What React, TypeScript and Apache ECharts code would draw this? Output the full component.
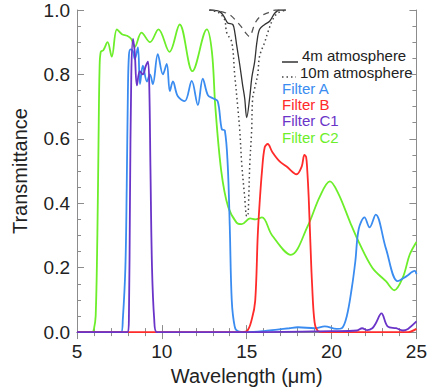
import React, { useEffect, useRef } from "react";
import * as echarts from "echarts";

const filterA: [number, number][] = [
  [5, 0], [7.6, 0], [7.7, 0.04], [7.85, 0.2], [7.93, 0.45], [8.0, 0.75], [8.06, 0.86], [8.15, 0.878],
  [8.29, 0.872], [8.41, 0.848], [8.59, 0.884], [8.71, 0.77], [8.88, 0.827], [9.12, 0.778], [9.3, 0.8],
  [9.47, 0.77], [9.76, 0.863], [10.06, 0.8], [10.29, 0.833], [10.47, 0.748], [10.65, 0.778], [10.94, 0.732],
  [11.35, 0.717], [11.76, 0.78], [12.12, 0.705], [12.41, 0.787], [12.71, 0.736], [13.0, 0.726],
  [13.29, 0.717], [13.53, 0.63], [13.71, 0.626], [13.88, 0.52], [14.0, 0.33], [14.12, 0.097],
  [14.29, 0.018], [14.47, 0.003], [15, 0], [16, 0.003], [16.8, 0.008], [17.5, 0.012], [18, 0.015],
  [19, 0.012], [19.6, 0.018], [20.3, 0.01], [20.6, 0.012], [20.9, 0.05], [21.2, 0.14], [21.4, 0.22],
  [21.6, 0.32], [21.94, 0.356], [22.24, 0.325], [22.6, 0.365], [23.2, 0.26], [23.9, 0.158],
  [24.4, 0.173], [24.9, 0.19], [25, 0.18],
];

const filterB: [number, number][] = [
  [5, 0], [14.6, 0], [15.0, 0.003], [15.3, 0.04], [15.5, 0.097], [15.65, 0.3], [15.76, 0.4],
  [15.9, 0.5], [16.06, 0.574], [16.24, 0.584], [16.5, 0.56], [16.94, 0.53], [17.35, 0.514],
  [17.94, 0.49], [18.24, 0.514], [18.4, 0.55], [18.5, 0.544], [18.57, 0.5], [18.65, 0.42],
  [18.75, 0.28], [18.85, 0.15], [19.0, 0.03], [19.2, 0.003], [19.5, 0], [24.5, 0], [25, 0.01],
];

const filterC1: [number, number][] = [
  [5, 0], [8.0, 0], [8.06, 0.05], [8.12, 0.4], [8.2, 0.8], [8.3, 0.91], [8.4, 0.87], [8.53, 0.766],
  [8.7, 0.81], [8.88, 0.8], [9.05, 0.826], [9.18, 0.84], [9.26, 0.76], [9.33, 0.5], [9.42, 0.2],
  [9.55, 0.04], [9.7, 0], [15, 0], [20, 0.003], [21.5, 0.005], [21.8, 0.012], [22.1, 0.006],
  [22.4, 0.012], [22.6, 0.027], [22.94, 0.058], [23.3, 0.018], [23.8, 0.012], [24.2, 0.005],
  [24.5, 0.01], [25, 0.033],
];

const filterC2: [number, number][] = [
  [5, 0], [5.9, 0], [6.0, 0.01], [6.1, 0.05], [6.2, 0.3], [6.27, 0.6], [6.33, 0.82], [6.4, 0.87],
  [6.55, 0.875], [6.8, 0.9], [7.05, 0.855], [7.35, 0.94], [7.65, 0.925], [7.95, 0.92], [8.2, 0.91],
  [8.4, 0.885], [8.8, 0.93], [9.3, 0.9], [9.8, 0.94], [10.45, 0.87], [11.05, 0.955], [11.8, 0.81],
  [12.65, 0.94], [12.95, 0.87], [13.15, 0.7], [13.5, 0.5], [13.9, 0.39], [14.4, 0.34], [14.7, 0.335],
  [15.2, 0.353], [15.5, 0.35], [15.9, 0.356], [16.5, 0.3], [17.6, 0.24], [18.6, 0.33], [19.3, 0.42],
  [19.9, 0.468], [20.4, 0.43], [21.1, 0.34], [21.6, 0.28], [22.4, 0.2], [23.2, 0.158], [23.7, 0.13],
  [24.2, 0.17], [24.6, 0.24], [25, 0.28],
];

const atm4m: [number, number][] = [
  [12.8, 1.0], [13.2, 0.998], [13.41, 0.995], [13.6, 0.985], [13.71, 0.975], [13.88, 0.96],
  [14.18, 0.955], [14.3, 0.93], [14.41, 0.89], [14.59, 0.83], [14.75, 0.77], [14.88, 0.726],
  [15.0, 0.666], [15.18, 0.73], [15.3, 0.79], [15.47, 0.84], [15.6, 0.9], [15.76, 0.94],
  [16.06, 0.955], [16.35, 0.965], [16.65, 0.99], [16.94, 1.0], [17.3, 1.0],
];

const atm10m: [number, number][] = [
  [12.8, 1.0], [13.2, 0.995], [13.4, 0.99], [13.7, 0.97], [13.82, 0.93], [14.12, 0.9], [14.29, 0.8],
  [14.47, 0.7], [14.59, 0.626], [14.71, 0.52], [14.88, 0.42], [15.0, 0.36], [15.06, 0.36],
  [15.12, 0.42], [15.18, 0.52], [15.29, 0.626], [15.35, 0.726], [15.47, 0.757], [15.65, 0.8],
  [15.76, 0.857], [16.06, 0.9], [16.24, 0.93], [16.53, 0.97], [16.82, 0.99], [17.3, 1.0],
];

const atmDashed: [number, number][] = [
  [12.8, 1.0], [13.5, 0.995], [14.0, 0.985], [14.4, 0.965], [14.65, 0.95], [15.0, 0.925],
  [15.15, 0.918], [15.5, 0.96], [15.8, 0.98], [16.2, 0.99], [16.7, 1.0], [17.3, 1.0],
];

const xTicks = [5, 10, 15, 20, 25];
const yTicks = ["0.0", "0.2", "0.4", "0.6", "0.8", "1.0"];
const legendFilters = [
  { name: "Filter A", color: "#3a8cf0" },
  { name: "Filter B", color: "#ff2a2a" },
  { name: "Filter C1", color: "#6a34c8" },
  { name: "Filter C2", color: "#6cee2a" },
];

const FONT = "'Liberation Sans', Arial, sans-serif";
const AXIS_COLOR = "#8c8c8c";

export default function App() {
  const ref = useRef<HTMLDivElement>(null);
  useEffect(() => {
    if (!ref.current) return;
    const chart = echarts.init(ref.current, undefined, { renderer: "svg" });
    const axisCommon = {
      axisLine: { show: true, lineStyle: { color: AXIS_COLOR, width: 1 } },
      axisTick: { show: true, inside: true, length: 7, lineStyle: { color: AXIS_COLOR } },
      minorTick: { show: true, splitNumber: 5, length: 4, lineStyle: { color: AXIS_COLOR } },
      splitLine: { show: false },
    };
    const line = (data: [number, number][], color: string, width = 1.8, type: any = "solid") => ({
      type: "line",
      data,
      showSymbol: false,
      smooth: 0.35,
      lineStyle: { color, width, type },
      xAxisIndex: 0,
      yAxisIndex: 0,
      z: 3,
    });
    chart.setOption({
      animation: false,
      backgroundColor: "#fff",
      grid: { left: 77, top: 10, width: 340, height: 329, containLabel: false },
      xAxis: [
        {
          type: "value",
          min: 5,
          max: 25,
          interval: 5,
          ...axisCommon,
          axisLabel: {
            margin: 10,
            fontSize: 19,
            color: "#222",
            fontFamily: FONT,
            formatter: (v: number) => (xTicks.includes(v) ? String(v) : ""),
          },
          name: "Wavelength (\u03bcm)",
          nameLocation: "middle",
          nameGap: 31,
          nameTextStyle: { fontSize: 20, color: "#222", fontFamily: FONT },
        },
        {
          type: "value",
          position: "top",
          min: 5,
          max: 25,
          interval: 5,
          ...axisCommon,
          axisLabel: { show: false },
        },
      ],
      yAxis: [
        {
          type: "value",
          min: 0,
          max: 1,
          interval: 0.2,
          ...axisCommon,
          minorTick: { show: true, splitNumber: 4, length: 4, lineStyle: { color: AXIS_COLOR } },
          axisLabel: {
            margin: 7,
            fontSize: 19,
            color: "#222",
            fontFamily: FONT,
            formatter: (v: number) => yTicks[Math.round(v * 5)] ?? "",
          },
          name: "Transmittance",
          nameLocation: "middle",
          nameGap: 47,
          nameTextStyle: { fontSize: 20, color: "#222", fontFamily: FONT },
        },
        {
          type: "value",
          position: "right",
          min: 0,
          max: 1,
          interval: 0.2,
          ...axisCommon,
          minorTick: { show: true, splitNumber: 4, length: 4, lineStyle: { color: AXIS_COLOR } },
          axisLabel: { show: false },
        },
      ],
      series: [
        line(filterC2, legendFilters[3].color),
        line(filterA, legendFilters[0].color),
        line(filterB, legendFilters[1].color),
        line(filterC1, legendFilters[2].color),
        line(atm4m, "#333", 1.3),
        line(atm10m, "#444", 1.5, [1.5, 3]),
        line(atmDashed, "#555", 1.3, [6, 5]),
      ],
      graphic: [
        { type: "line", shape: { x1: 282, y1: 62, x2: 298, y2: 62 }, style: { stroke: "#333", lineWidth: 1.5 } },
        { type: "text", x: 302, y: 55, style: { text: "4m atmosphere", fill: "#222", font: `15px ${FONT}`, verticalAlign: "middle" } },
        { type: "line", shape: { x1: 282, y1: 77, x2: 296, y2: 77 }, style: { stroke: "#444", lineWidth: 1.5, lineDash: [1.5, 3] } },
        { type: "text", x: 300, y: 72, style: { text: "10m atmosphere", fill: "#222", font: `15px ${FONT}`, verticalAlign: "middle" } },
        ...legendFilters.map((f, i) => ({
          type: "text",
          x: 282,
          y: 88 + i * 16.4,
          style: { text: f.name, fill: f.color, font: `15px ${FONT}`, verticalAlign: "middle" },
        })),
      ],
    });
    return () => chart.dispose();
  }, []);
  return <div ref={ref} style={{ position: "fixed", left: 0, top: 0, width: 430, height: 391 }} />;
}
